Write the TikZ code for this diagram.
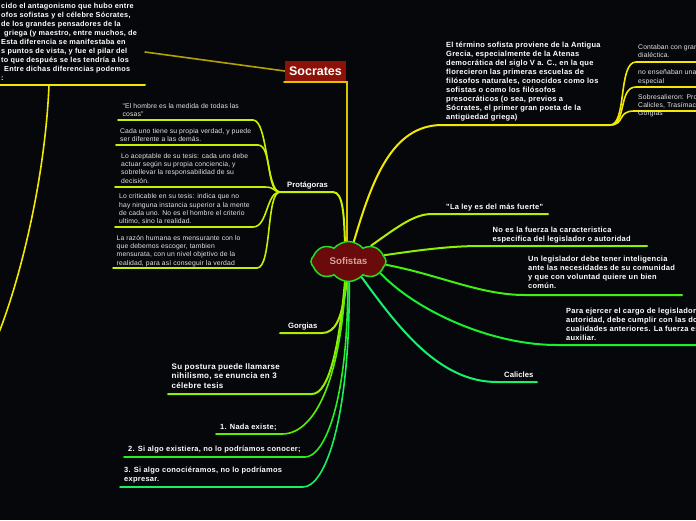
\documentclass[tikz,border=0pt]{standalone}
\usepackage{fontspec}
\setmainfont{Liberation Sans}
\newfontfamily\ancha[LetterSpace=3.5]{Liberation Sans}
\newfontfamily\chica[LetterSpace=2]{Liberation Sans}
\usetikzlibrary{shapes.symbols,backgrounds}
\definecolor{fondo}{HTML}{05070A}
\definecolor{gris}{HTML}{E6E6E6}
\definecolor{rosa}{HTML}{D6A0A0}
\definecolor{nuberoja}{HTML}{6A0A0A}
\definecolor{nubeverde}{HTML}{22E022}
\definecolor{socrojo}{HTML}{8C1208}
\definecolor{socama}{HTML}{D8C400}
\definecolor{oliva}{HTML}{B4A000}
\definecolor{amarillo}{HTML}{F2E800}
\definecolor{lima}{HTML}{C8F000}
\definecolor{gorgcol}{HTML}{B0EC00}
\definecolor{verde1}{HTML}{B4F000}
\definecolor{verde2}{HTML}{8CF000}
\definecolor{verde3}{HTML}{40F010}
\definecolor{verde4}{HTML}{18F030}
\definecolor{verde5}{HTML}{18F070}
\definecolor{tesis0}{HTML}{90F000}
\definecolor{tesis1}{HTML}{58F000}
\definecolor{tesis2}{HTML}{28F020}
\definecolor{tesis3}{HTML}{18F060}
\begin{document}
\begin{tikzpicture}[x=1pt, y=-1pt,
  every node/.style={inner sep=0pt, text=white, align=left},
  texto/.style={anchor=base west, font=\ancha\fontsize{7.5}{9}\selectfont\bfseries},
  textochico/.style={anchor=base west, text=gris, font=\chica\fontsize{6.8}{8.2}\selectfont},
  tema/.style={anchor=base west, font=\fontsize{7.7}{9}\selectfont\bfseries},
  rama/.style={line width=2pt, line cap=round},
  ramita/.style={line width=1.6pt, line cap=round}]
  \useasboundingbox (0,0) rectangle (696,520);
  % (los nodos de varias lineas se colocan por la base de su ultima linea)

  % nodo central
  \node[cloud, cloud puffs=8, cloud puff arc=100, aspect=2, draw=nubeverde,
        fill=nuberoja, line width=1.5pt, minimum width=75pt, minimum height=40pt,
        text=rosa, font=\fontsize{9.7}{11}\selectfont\bfseries, anchor=center]
        (sofistas) at (348.5,261.5) {Sofistas};

  % Socrates y su texto
  \node[fill=socrojo, minimum width=61pt, minimum height=20pt, anchor=center,
        font=\fontsize{12.5}{14}\selectfont\bfseries] (socrates) at (315.5,71) {Socrates};
  \node[anchor=base west, font=\ancha\fontsize{7.3}{9}\selectfont\bfseries] (intro) at (1,80.5)
    {cido el antagonismo que hubo entre\\
     ofos sofistas y el célebre Sócrates,\\
     de los grandes pensadores de la\\
     \hspace{3pt}griega (y maestro, entre muchos, de\\
     Esta diferencia se manifestaba en\\
     s puntos de vista, y fue el pilar del\\
     to que después se les tendría a los\\
     \hspace{3pt}Entre dichas diferencias podemos\\
     :};
  \coordinate (socL) at (284,82);
  \coordinate (socR) at (347,82);
  \coordinate (introE) at (145,52);
  \coordinate (introL) at (0,85);
  \coordinate (introR) at (145,85);
  \coordinate (introK) at (49,85);
  \coordinate (perdido) at (-2,335);

  % origen del termino
  \node[texto] (grecia) at (446,119.5)
    {El término sofista proviene de la Antigua\\
     Grecia, especialmente de la Atenas\\
     democrática del siglo V a. C., en la que\\
     florecieron las primeras escuelas de\\
     filósofos naturales, conocidos como los\\
     sofistas o como los filósofos\\
     presocráticos (o sea, previos a\\
     Sócrates, el primer gran poeta de la\\
     antigüedad griega)};
  \node[textochico] (contaban) at (638,57.5) {Contaban con gran\\dialéctica.};
  \node[textochico] (ensenaban) at (638,83) {no enseñaban una\\especial};
  \node[textochico] (sobresal) at (638,115.8) {Sobresalieron: Pro\\Calicles, Trasímaco\\Gorgias};
  \coordinate (greciaL) at (442,125);
  \coordinate (greciaR) at (610,125);
  \coordinate (contabanL) at (636,62);
  \coordinate (ensenabanL) at (636,87);
  \coordinate (sobresalL) at (634,111);

  % Protagoras
  \node[tema] (protagoras) at (287,187) {Protágoras};
  \node[textochico] (hombre) at (122.5,116.5) {"El hombre es la medida de todas las\\cosas"};
  \node[textochico] (verdad) at (120,141.5) {Cada uno tiene su propia verdad, y puede\\ser diferente a las demás.};
  \node[textochico] (tesis) at (121,183)
    {Lo aceptable de su tesis: cada uno debe\\actuar según su propia conciencia, y\\
     sobrellevar la responsabilidad de su\\decisión.};
  \node[textochico] (critica) at (119,223.5)
    {Lo criticable en su tesis: indica que no\\hay ninguna instancia superior a la mente\\
     de cada uno. No es el hombre el criterio\\ultimo, sino la realidad.};
  \node[textochico] (razon) at (116.5,265)
    {La razón humana es mensurante con lo\\que debemos escoger, tambien\\
     mensurata, con un nivel objetivo de la\\realidad, para así conseguir la verdad};
  \coordinate (protL) at (280,192);
  \coordinate (protR) at (333,192);
  \coordinate (hombreL) at (118,120);   \coordinate (hombreR) at (253,120);
  \coordinate (verdadL) at (116,145);   \coordinate (verdadR) at (258,145);
  \coordinate (tesisL) at (115,187);    \coordinate (tesisR) at (265,187);
  \coordinate (criticaL) at (115,227);  \coordinate (criticaR) at (253,227);
  \coordinate (razonL) at (113,268);    \coordinate (razonR) at (257,268);

  % Calicles y el legislador
  \node[texto] (ley) at (446,209) {"La ley es del más fuerte"};
  \node[texto] (fuerza) at (492.5,241) {No es la fuerza la caracteristica\\especifica del legislador o autoridad};
  \node[texto] (legis) at (528,288.5)
    {Un legislador debe tener inteligencia\\ante las necesidades de su comunidad\\
     y que con voluntad quiere un bien\\común.};
  \node[texto] (ejercer) at (566,340)
    {Para ejercer el cargo de legislador\\autoridad, debe cumplir con las dos\\
     cualidades anteriores. La fuerza es\\auxiliar.};
  \node[tema] (calicles) at (504,377) {Calicles};
  \coordinate (leyL) at (432,214);      \coordinate (leyR) at (548,214);
  \coordinate (fuerzaL) at (480,246);   \coordinate (fuerzaR) at (647,246);
  \coordinate (legisL) at (525,295);    \coordinate (legisR) at (682,295);
  \coordinate (ejercerL) at (557,345);  \coordinate (ejercerR) at (696,345);
  \coordinate (caliL) at (497,382);     \coordinate (caliR) at (537,382);

  % Gorgias y sus tesis
  \node[tema] (gorgias) at (288,328) {Gorgias};
  \node[anchor=base west, font=\ancha\fontsize{8}{9.5}\selectfont\bfseries] (postura) at (171.5,388)
    {Su postura puede llamarse\\nihilismo, se enuncia en 3\\célebre tesis};
  \node[texto] (nada) at (220,429) {1. Nada existe;};
  \node[texto] (existiera) at (128,451.5) {2. Si algo existiera, no lo podríamos conocer;};
  \node[texto] (conocer) at (124,481.5) {3. Si algo conociéramos, no lo podríamos\\expresar.};
  \coordinate (gorgL) at (280,333);     \coordinate (gorgR) at (322,333);
  \coordinate (posturaL) at (168,394);  \coordinate (posturaR) at (312,394);
  \coordinate (nadaL) at (216,434);     \coordinate (nadaR) at (282,434);
  \coordinate (existL) at (124,457);    \coordinate (existR) at (305,457);
  \coordinate (conocL) at (120,487);    \coordinate (conocR) at (303,487);

  % conectores, debajo de los nodos
  \begin{scope}[on background layer]
    \fill[fondo] (0,0) rectangle (696,520);
    % Socrates
    \draw[ramita, socama] (socL) -- (socR) -- (socR |- sofistas.north);
    \draw[ramita, oliva] (socrates.west) -- (introE);
    \draw[rama, amarillo] (introL) -- (introR);
    \draw[ramita, amarillo] (introK) .. controls (45,180) and (20,280) .. (perdido);
    % origen
    \draw[rama, amarillo] (sofistas.75) .. controls (372,180) and (392,125) .. (greciaL) -- (greciaR);
    \draw[ramita, amarillo] (greciaR) .. controls (627,125) and (618,62) .. (contabanL) -- (696,62);
    \draw[ramita, amarillo] (greciaR) .. controls (627,125) and (618,87) .. (ensenabanL) -- (696,87);
    \draw[ramita, amarillo] (greciaR) .. controls (625,125) and (617,111) .. (sobresalL) -- (696,111);
    % Protagoras
    \draw[rama, lima] (sofistas.100) .. controls (344,215) and (343,192) .. (protR) -- (protL);
    \draw[ramita, lima] (protL) .. controls (266,192) and (268,120) .. (hombreR) -- (hombreL);
    \draw[ramita, lima] (protL) .. controls (266,192) and (272,145) .. (verdadR) -- (verdadL);
    \draw[ramita, lima] (protL) .. controls (274,192) and (275,187) .. (tesisR) -- (tesisL);
    \draw[ramita, lima] (protL) .. controls (266,192) and (268,227) .. (criticaR) -- (criticaL);
    \draw[ramita, lima] (protL) .. controls (266,192) and (272,268) .. (razonR) -- (razonL);
    % Calicles
    \draw[rama, verde1] (sofistas.35) .. controls (400,225) and (415,214) .. (leyL) -- (leyR);
    \draw[rama, verde2] (sofistas.10) .. controls (420,250) and (450,246) .. (fuerzaL) -- (fuerzaR);
    \draw[rama, verde3] (sofistas.-5) .. controls (440,275) and (480,295) .. (legisL) -- (legisR);
    \draw[rama, verde4] (sofistas.-20) .. controls (415,310) and (490,345) .. (ejercerL) -- (ejercerR);
    \draw[rama, verde5] (sofistas.-50) .. controls (400,330) and (440,382) .. (caliL) -- (caliR);
    % Gorgias
    \draw[rama, gorgcol] (sofistas.-95) .. controls (342,320) and (335,333) .. (gorgR) -- (gorgL);
    \draw[rama, tesis0] (sofistas.-100) .. controls (340,340) and (330,394) .. (posturaR) -- (posturaL);
    \draw[ramita, tesis1] (sofistas.-98) .. controls (340,380) and (315,434) .. (nadaR) -- (nadaL);
    \draw[ramita, tesis2] (sofistas.-92) .. controls (348,400) and (325,457) .. (existR) -- (existL);
    \draw[ramita, tesis3] (sofistas.-88) .. controls (350,420) and (325,487) .. (conocR) -- (conocL);
  \end{scope}
\end{tikzpicture}
\end{document}
